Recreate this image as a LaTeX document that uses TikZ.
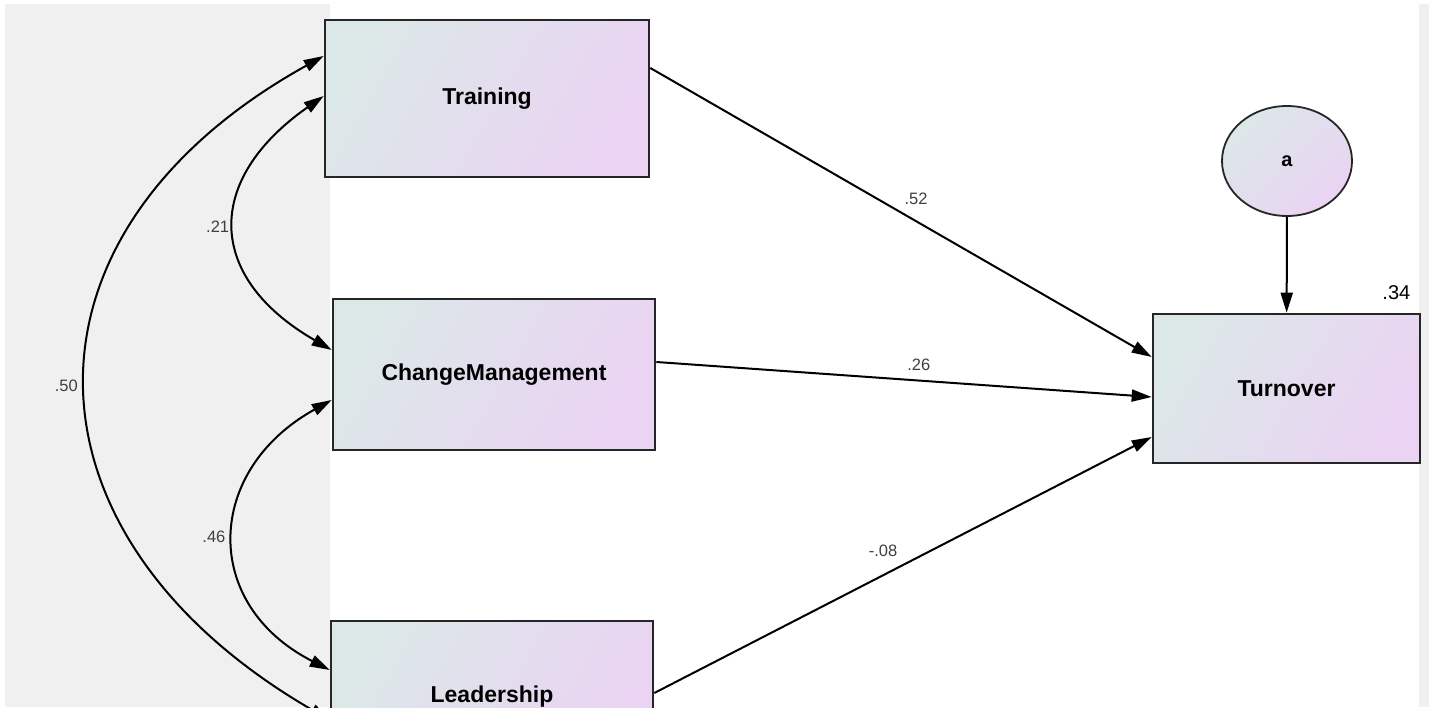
\documentclass[tikz,border=0pt]{standalone}
\usepackage{fontspec}
\setmainfont{Liberation Sans}
\usetikzlibrary{arrows.meta,shapes.geometric}

\definecolor{boxtl}{HTML}{DCE8E8}
\definecolor{boxbr}{HTML}{EAD3F3}
\definecolor{panel}{HTML}{F0F0F0}

\begin{document}
\begin{tikzpicture}[x=1pt, y=1pt, >={Triangle[length=20pt,width=12pt]}, line width=2pt,
    var/.style={rectangle, draw=black!85, line width=2.6pt, top color=boxtl, bottom color=boxbr, shading angle=60,
        minimum width=322pt, minimum height=151pt, font=\fontsize{23}{27}\selectfont\bfseries},
    err/.style={ellipse, draw=black!85, line width=1.8pt, top color=boxtl, bottom color=boxbr, shading angle=45,
        minimum width=130pt, minimum height=110pt, font=\fontsize{20}{24}\selectfont\bfseries},
    est/.style={font=\fontsize{16.5}{18}\selectfont, text=black!75}]
    \path [use as bounding box, clip] (0,0) rectangle (1429,707);
    \fill [panel] (5,0) rectangle (330,703);
    \fill [panel] (1419,0) rectangle (1429,703);

    % Nodes {tr, cm, ld, to, a}
    \node [var, minimum width=324pt, minimum height=157pt] (tr) at (487,608.5)  {Training};
    \node [var]                                           (cm) at (494,332.5)  {ChangeManagement};
    \node [var]                                           (ld) at (492,10.5)   {Leadership};
    \node [var, minimum width=267pt, minimum height=149pt] (to) at (1286.5,318.5) {Turnover};
    \node [err]                                           (a)  at (1287,546)   {a};
    \node [font=\fontsize{20}{24}\selectfont, anchor=south east] (r2) at ([xshift=-6.7pt,yshift=8.5pt]to.north east) {.34};

    % Paths
    \path [->] ([yshift=30.5pt]tr.east) edge node [est, pos=.53, above=12pt]  {.52} ([yshift=31.5pt]to.west);
    \path [->] ([yshift=12.5pt]cm.east) edge node [est, pos=.53, above=5.5pt] {.26} ([yshift=-8.5pt]to.west);
    \path [->] ([yshift=3.5pt]ld.east)  edge node [est, pos=.46, above=14pt]  {-.08} ([yshift=-48.5pt]to.west);
    \path [->] (a) edge (to);

    % Covariances
    \path [<->] ([yshift=2.5pt]tr.west)   edge [out=215, in=150, distance=146pt] node [est, left=2pt] {.21} ([yshift=24.5pt]cm.west);
    \path [<->] ([yshift=-25.5pt]cm.west) edge [out=209, in=153, distance=145pt] node [est, left=5pt] {.46} ([yshift=26.5pt]ld.west);
    \path [<->] ([yshift=42.5pt]tr.west)  edge [out=209, in=150, distance=367pt] node [est, left=5pt] {.50} ([yshift=-23.5pt]ld.west);
\end{tikzpicture}
\end{document}
